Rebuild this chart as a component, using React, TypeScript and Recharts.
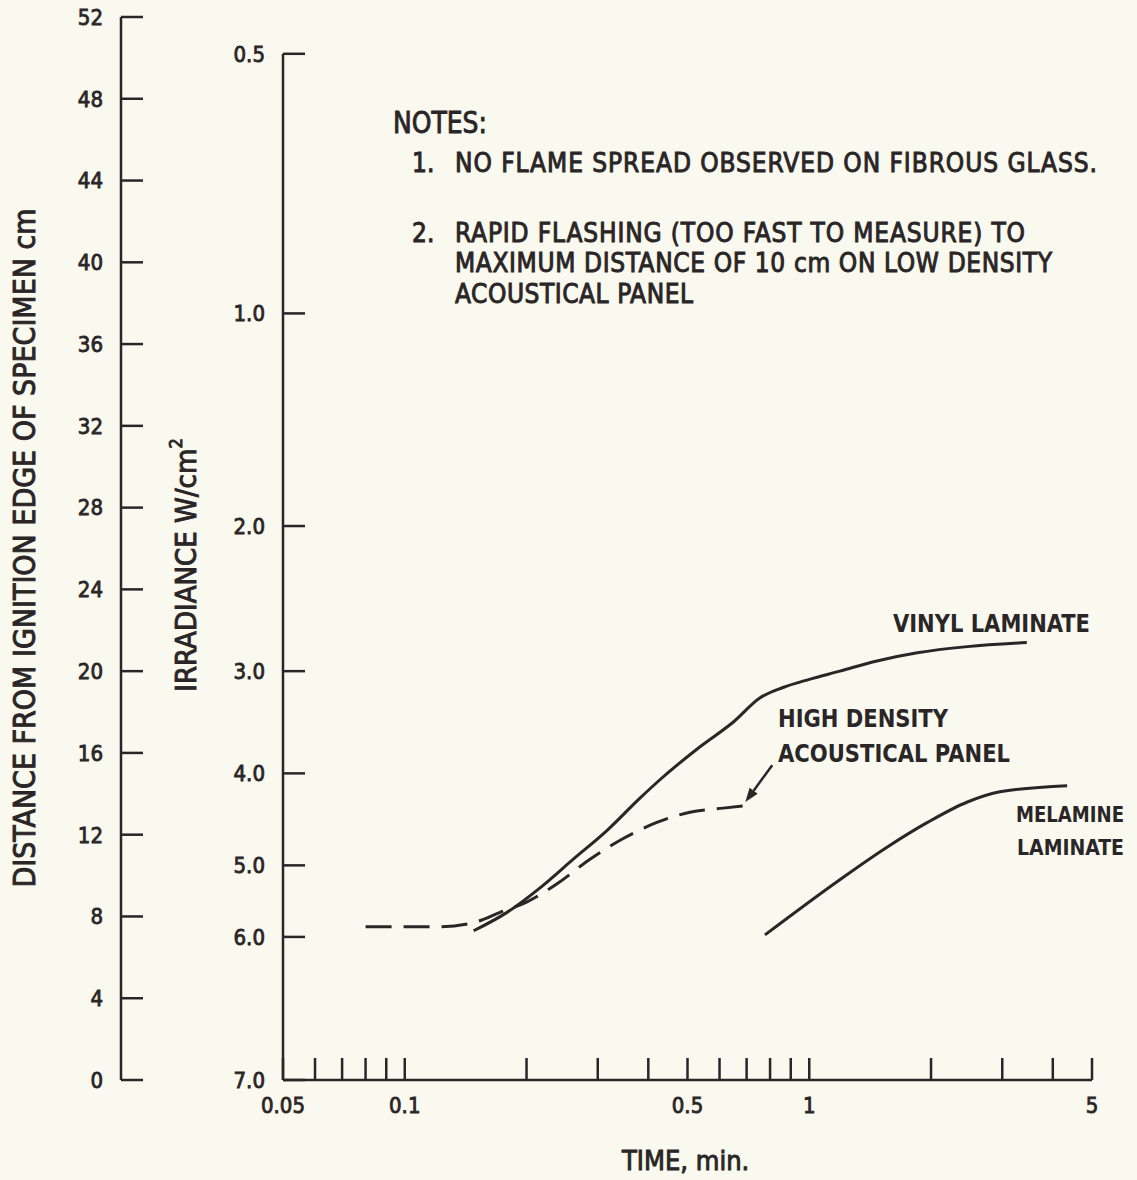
import React from 'react';
import { LineChart, Line, XAxis, YAxis, ReferenceLine } from 'recharts';

const INK = '#2a2526';
const BG = '#f9f9ef';
const FONT = "'DejaVu Sans Condensed', 'Liberation Sans Narrow', 'DejaVu Sans', sans-serif";

// time axis (log), minutes
const timeTicks = [0.05, 0.06, 0.07, 0.08, 0.09, 0.1, 0.2, 0.3, 0.4, 0.5, 0.6, 0.7, 0.8, 0.9, 1, 2, 3, 4, 5];
const timeLabels = [0.05, 0.1, 0.5, 1, 5];

// distance axis, cm
const distanceTicks = [0, 4, 8, 12, 16, 20, 24, 28, 32, 36, 40, 44, 48, 52];

// irradiance scale, placed at the matching distance
const irradianceLabels = ['0.5', '1.0', '2.0', '3.0', '4.0', '5.0', '6.0', '7.0'];
const irradianceAt = [50.2, 37.5, 27.1, 20.0, 15.0, 10.5, 7.0, 0];

// vinyl laminate
const vinylTime = [0.148, 0.179, 0.216, 0.261, 0.316, 0.382, 0.428, 0.537, 0.648, 0.756, 0.861, 1.0, 1.19, 1.47, 1.85, 2.46, 3.45];
const vinylDist = [7.3, 8.2, 9.4, 10.8, 12.2, 13.8, 14.7, 16.3, 17.5, 18.7, 19.2, 19.6, 20.0, 20.5, 20.9, 21.2, 21.4];

// high density acoustical panel (dashed)
const hdTime = [0.08, 0.122, 0.148, 0.172, 0.2, 0.238, 0.287, 0.346, 0.42, 0.507, 0.612, 0.686];
const hdDist = [7.5, 7.5, 7.7, 8.2, 8.7, 9.6, 10.8, 11.8, 12.6, 13.1, 13.3, 13.4];

// melamine laminate
const melTime = [0.777, 1.19, 1.56, 1.96, 2.46, 2.96, 4.34];
const melDist = [7.1, 9.8, 11.4, 12.6, 13.6, 14.1, 14.4];

// label arrow for the dashed curve
const arrowFrom = { x: 0.81, y: 15.4 };
const arrowTo = { x: 0.695, y: 13.6 };

const zip = (t: number[], d: number[]) => t.map((v, i) => ({ t: v, d: d[i] }));

const ArrowShape = (props: any) => {
  const { x1, y1, x2, y2 } = props;
  const a = Math.atan2(y2 - y1, x2 - x1);
  const len = 14;
  const half = 5;
  const bx = x2 - len * Math.cos(a);
  const by = y2 - len * Math.sin(a);
  const px = -Math.sin(a) * half;
  const py = Math.cos(a) * half;
  return (
    <g>
      <line x1={x1} y1={y1} x2={bx} y2={by} stroke={INK} strokeWidth={2.5} />
      <polygon points={`${x2},${y2} ${bx + px},${by + py} ${bx - px},${by - py}`} fill={INK} />
    </g>
  );
};

const tickStyle = { fill: INK, fontSize: 22, fontFamily: FONT, stroke: INK, strokeWidth: 0.8 };

// axis ids: "a" sits next to the plot, "b" outside it
const IRR = 'a';
const DIST = 'b';

export default function App() {
  const vinyl = zip(vinylTime, vinylDist);
  const hd = zip(hdTime, hdDist);
  const mel = zip(melTime, melDist);

  return (
    <div style={{ position: 'absolute', left: 0, top: 0, width: 1137, height: 1180, background: BG }}>
      <LineChart width={1137} height={1180} margin={{ top: 17, right: 45, bottom: 40, left: 21 }}>
        <XAxis
          dataKey="t"
          type="number"
          scale="log"
          domain={[0.05, 5]}
          allowDataOverflow
          ticks={timeTicks}
          interval={0}
          height={60}
          tickSize={-22}
          tickMargin={39}
          tickFormatter={(v: number) => (timeLabels.includes(v) ? String(v) : '')}
          stroke={INK}
          strokeWidth={2.5}
          tick={tickStyle}
        />
        <YAxis
          yAxisId={IRR}
          type="number"
          domain={[0, 52]}
          allowDataOverflow
          ticks={irradianceAt}
          interval={0}
          width={162}
          axisLine={false}
          tickSize={-22}
          tickMargin={40}
          tickFormatter={(v: number) => irradianceLabels[irradianceAt.indexOf(v)] ?? ''}
          stroke={INK}
          strokeWidth={2.5}
          tick={tickStyle}
        />
        <YAxis
          yAxisId={DIST}
          type="number"
          domain={[0, 52]}
          allowDataOverflow
          ticks={distanceTicks}
          interval={0}
          width={100}
          tickSize={-22}
          tickMargin={40}
          stroke={INK}
          strokeWidth={2.5}
          tick={tickStyle}
        />
        <ReferenceLine
          yAxisId={IRR}
          segment={[{ x: 0.05, y: 0 }, { x: 0.05, y: irradianceAt[0] }]}
          stroke={INK}
          strokeWidth={2.5}
          ifOverflow="visible"
        />
        <Line data={vinyl} dataKey="d" yAxisId={DIST} type="monotone" stroke={INK} strokeWidth={3} dot={false} isAnimationActive={false} />
        <Line data={hd} dataKey="d" yAxisId={DIST} type="monotone" stroke={INK} strokeWidth={3} strokeDasharray="26 12" dot={false} isAnimationActive={false} />
        <Line data={mel} dataKey="d" yAxisId={DIST} type="monotone" stroke={INK} strokeWidth={3} dot={false} isAnimationActive={false} />
        <ReferenceLine yAxisId={DIST} segment={[arrowFrom, arrowTo]} shape={ArrowShape} ifOverflow="visible" />
      </LineChart>

      <svg
        width={1137}
        height={1180}
        style={{ position: 'absolute', left: 0, top: 0, pointerEvents: 'none' }}
        fontFamily={FONT}
        fill={INK}
        stroke={INK}
        strokeWidth={0.9}
      >
        <text x={24} y={548} transform="rotate(-90 24 548)" textAnchor="middle" dominantBaseline="central" fontSize={30}>
          DISTANCE FROM IGNITION EDGE OF SPECIMEN cm
        </text>
        <text x={186} y={565} transform="rotate(-90 186 565)" textAnchor="middle" dominantBaseline="central" fontSize={29}>
          IRRADIANCE W/cm<tspan fontSize={18} dy={-11}>2</tspan>
        </text>
        <text x={622} y={1170} fontSize={27}>TIME, min.</text>

        <text x={393} y={133} fontSize={30} textLength={94} lengthAdjust="spacingAndGlyphs">NOTES:</text>
        <text x={412} y={172} fontSize={26}>1.</text>
        <text x={455} y={172} fontSize={26} textLength={642} lengthAdjust="spacing">NO FLAME SPREAD OBSERVED ON FIBROUS GLASS.</text>
        <text x={412} y={242} fontSize={26}>2.</text>
        <text x={455} y={242} fontSize={26} textLength={570} lengthAdjust="spacing">RAPID FLASHING (TOO FAST TO MEASURE) TO</text>
        <text x={455} y={272} fontSize={26} textLength={597} lengthAdjust="spacing">MAXIMUM DISTANCE OF 10 cm ON LOW DENSITY</text>
        <text x={455} y={303} fontSize={26} textLength={238} lengthAdjust="spacing">ACOUSTICAL PANEL</text>

        <g fontWeight="bold" fontSize={24} strokeWidth={0}>
          <text x={893} y={632} textLength={197} lengthAdjust="spacingAndGlyphs">VINYL LAMINATE</text>
          <text x={778} y={727} textLength={170} lengthAdjust="spacingAndGlyphs">HIGH DENSITY</text>
          <text x={778} y={762} textLength={232} lengthAdjust="spacingAndGlyphs">ACOUSTICAL PANEL</text>
          <text x={1016} y={822} fontSize={22} textLength={108} lengthAdjust="spacingAndGlyphs">MELAMINE</text>
          <text x={1017} y={855} fontSize={22} textLength={107} lengthAdjust="spacingAndGlyphs">LAMINATE</text>
        </g>
      </svg>
    </div>
  );
}
